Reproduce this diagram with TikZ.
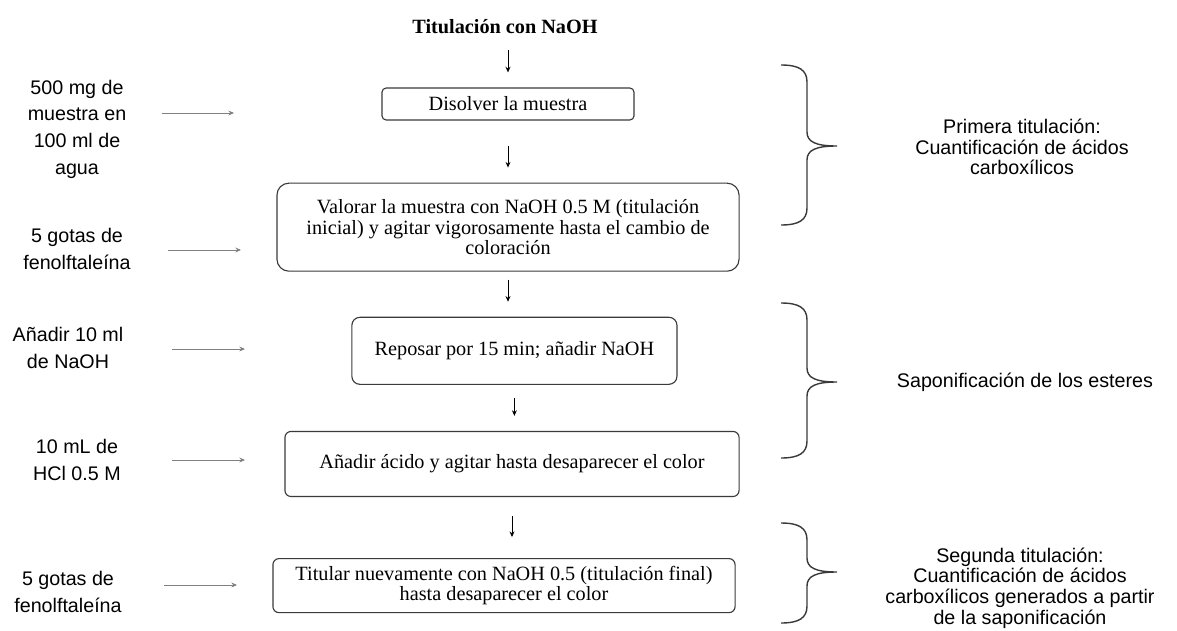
\documentclass[tikz,border=0pt]{standalone}
\usepackage{fontspec}
\setmainfont{Liberation Serif}
\setsansfont{Liberation Sans}
\usetikzlibrary{arrows.meta, positioning}
\definecolor{edgegray}{HTML}{3A3A3A}
\definecolor{feedgray}{HTML}{808080}

\begin{document}
\begin{tikzpicture}[x=0.025cm, y=-0.025cm, >={Stealth[length=4pt,width=3.5pt]},
  stepbox/.style={rectangle, rounded corners=#1, draw=edgegray, line width=0.8pt, align=center, inner sep=2pt, font=\fontsize{14.4}{14.6}\selectfont},
  stepbox/.default=4pt,
  side/.style={align=center, inner sep=0pt, font=\sffamily\fontsize{14}{19}\selectfont},
  note/.style={align=center, inner sep=0pt, font=\sffamily\fontsize{14}{14.6}\selectfont},
  flow/.style={->, line width=0.7pt},
  feed/.style={->, feedgray, line width=0.7pt},
  curly/.style={edgegray, line width=1pt}]
  \useasboundingbox (0,0) rectangle (1177,631);
  \node[font=\bfseries\fontsize{14.4}{14.6}\selectfont, inner sep=0pt] (title) at (505,27) {Titulación con NaOH};
  \node[stepbox=3pt, minimum width=6.3cm, minimum height=0.8cm] (dissolve) at (508,104) {Disolver la muestra};
  \node[stepbox=0.3cm, minimum width=11.55cm, minimum height=2.2cm, below=1.55cm of dissolve] (titrate) {Valorar la muestra con NaOH 0.5 M (titulación\\inicial) y agitar vigorosamente hasta el cambio de\\coloración};
  \node[stepbox=0.2cm, minimum width=8.125cm, minimum height=1.675cm, below=1.125cm of titrate, xshift=0.16cm] (rest) {Reposar por 15 min; añadir NaOH};
  \node[stepbox=0.15cm, minimum width=11.35cm, minimum height=1.625cm, below=1.15cm of rest, xshift=-0.06cm] (acidify) {Añadir ácido y agitar hasta desaparecer el color};
  \node[stepbox=0.15cm, minimum width=11.55cm, minimum height=1.35cm, below=1.525cm of acidify, xshift=-0.2cm] (retitrate) {Titular nuevamente con NaOH 0.5 (titulación final)\\hasta desaparecer el color};
  \draw[flow, shorten <=0.4cm, shorten >=0.375cm] (dissolve.north |- title.south) -- (dissolve.north);
  \draw[flow, shorten <=0.625cm, shorten >=0.375cm] (dissolve.south) -- (dissolve.south |- titrate.north);
  \draw[flow, shorten <=0.2cm, shorten >=0.375cm] (titrate.south) -- (titrate.south |- rest.north);
  \draw[flow, shorten <=0.325cm, shorten >=0.375cm] (rest.south) -- (rest.south |- acidify.north);
  \draw[flow, shorten <=0.475cm, shorten >=0.525cm] (acidify.south) -- (acidify.south |- retitrate.north);
  % reagents on the left
  \node[side] (sample) at (77,129) {500 mg de\\muestra en\\100 ml de\\agua};
  \node[side] (indicator) at (77,249) {5 gotas de\\fenolftaleína};
  \node[side] (base) at (68,348) {Añadir 10 ml\\de NaOH};
  \node[side] (acid) at (77,460) {10 mL de\\HCl 0.5 M};
  \node[side] (indicatorb) at (68,592) {5 gotas de\\fenolftaleína};
  \foreach \xa/\xb/\y [count=\i] in {162/234/113, 168/241/250, 172/245/349, 172/245/460, 164/237/585} {
    \coordinate (feed\i) at (\xa,\y);
    \coordinate (into\i) at (\xb,\y);
    \draw[feed] (feed\i) -- (into\i);
  }
  % stages on the right
  \foreach \t/\m/\b in {65/146/225, 303/382/458, 523/572/623} {
    \draw[curly] (781,\t) .. controls (799,\t) and (807,\t+5) .. (807,\t+17) -- (807,\m-14)
      .. controls (807,\m-4) and (816,\m) .. (837,\m) .. controls (816,\m) and (807,\m+4) .. (807,\m+14)
      -- (807,\b-17) .. controls (807,\b-5) and (799,\b) .. (781,\b);
  }
  \node[note] (first) at (1022,147) {Primera titulación:\\Cuantificación de ácidos\\carboxílicos};
  \node[note] (sapon) at (1025,382) {Saponificación de los esteres};
  \node[note] (second) at (1020,588) {Segunda titulación:\\Cuantificación de ácidos\\carboxílicos generados a partir\\de la saponificación};
\end{tikzpicture}
\end{document}
